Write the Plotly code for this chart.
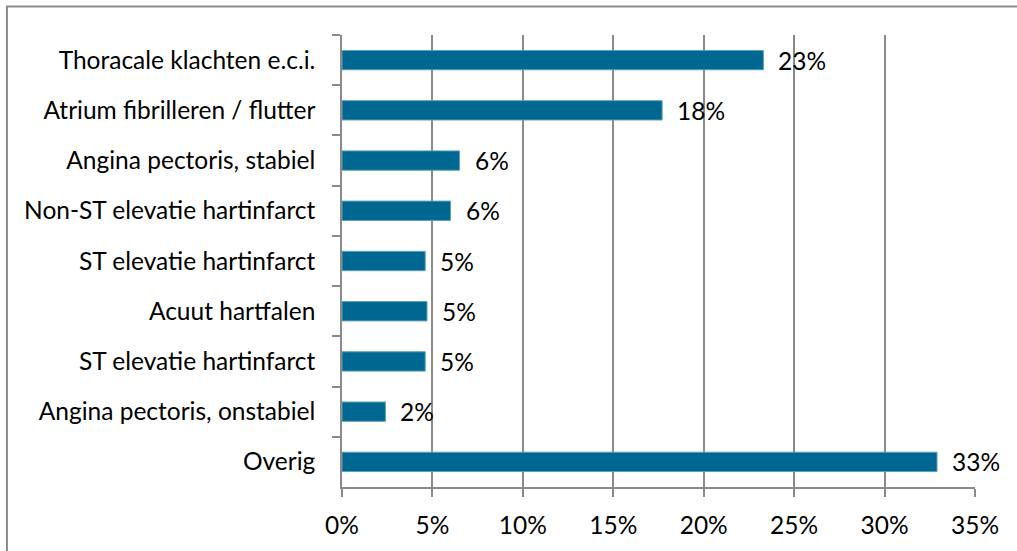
import plotly.graph_objects as go

# Diagnoses, top to bottom, with their share of patients
categories = [
    "Thoracale klachten e.c.i.",
    "Atrium fibrilleren / flutter",
    "Angina pectoris, stabiel",
    "Non-ST elevatie hartinfarct",
    "ST elevatie hartinfarct",
    "Acuut hartfalen",
    "ST elevatie hartinfarct\u200b",
    "Angina pectoris, onstabiel",
    "Overig",
]
shares = [0.233, 0.177, 0.065, 0.060, 0.046, 0.047, 0.046, 0.024, 0.329]

x_ticks = [0, 0.05, 0.10, 0.15, 0.20, 0.25, 0.30, 0.35]
x_tick_labels = ["0%", "5%", "10%", "15%", "20%", "25%", "30%", "35%"]

FONT = "Lato, 'Open Sans', 'Liberation Sans', sans-serif"
FSIZE = 24.5
BAR = "#006890"
GREY = "#8a8a8a"

fig = go.Figure(
    go.Bar(
        x=shares,
        y=categories,
        orientation="h",
        width=0.385,
        marker=dict(color=BAR, line=dict(color="#5c9fba", width=1)),
        hoverinfo="skip",
    )
)

# value labels to the right of each bar
for cat, val in zip(categories, shares):
    fig.add_annotation(
        x=val, y=cat, xref="x", yref="y",
        text=f"{round(val * 100):.0f}%",
        showarrow=False, xanchor="left", yanchor="middle",
        xshift=13, yshift=0,
        font=dict(family=FONT, size=FSIZE, color="#000000"),
    )

# outer chart frame
fig.add_shape(
    type="rect", xref="paper", yref="paper",
    x0=-0.5293, x1=1.3, y0=-0.3, y1=1.0633,
    line=dict(color=GREY, width=2), fillcolor="rgba(0,0,0,0)", layer="below",
)

fig.update_layout(
    width=1017, height=551,
    margin=dict(l=342, r=42, t=35, b=62, pad=0),
    paper_bgcolor="white", plot_bgcolor="white",
    showlegend=False,
    font=dict(family=FONT, size=FSIZE, color="#000000"),
)

fig.update_xaxes(
    range=[0, 0.35],
    tickvals=x_ticks, ticktext=x_tick_labels,
    showgrid=True, gridcolor=GREY, gridwidth=1.5,
    showline=True, linecolor=GREY, linewidth=1.5,
    ticks="outside", ticklen=8, tickcolor=GREY, tickwidth=1.5,
    ticklabelstandoff=8,
    zeroline=False,
    tickfont=dict(family=FONT, size=FSIZE, color="#000000"),
)

fig.update_yaxes(
    categoryorder="array", categoryarray=categories,
    autorange="reversed",
    showline=True, linecolor=GREY, linewidth=1.5,
    ticks="outside", ticklen=8, tickcolor=GREY, tickwidth=1.5,
    tickson="boundaries",
    ticklabelstandoff=20,
    showgrid=False,
    tickfont=dict(family=FONT, size=FSIZE, color="#000000"),
)

fig.write_html("out.html")
